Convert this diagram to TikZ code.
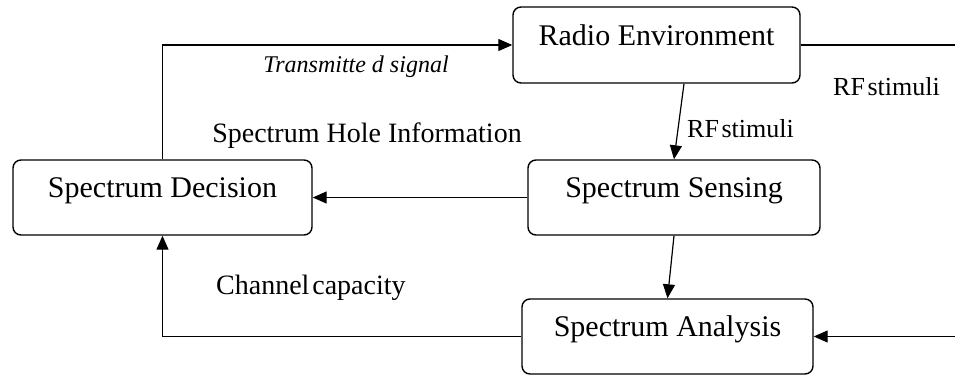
\documentclass[tikz,border=0pt]{standalone}
\usepackage{fontspec}
\setmainfont{Liberation Serif}
\usetikzlibrary{arrows.meta}
\begin{document}
\begin{tikzpicture}[x=1pt,y=-1pt,
  block/.style={draw,line width=1.4pt,rounded corners=8pt,inner sep=0pt,
    font=\fontsize{30}{30}\selectfont,text height=20pt,text depth=20pt},
  flow/.style={line width=1.2pt},
  arrowflow/.style={flow,-{Triangle[length=14pt,width=12pt]}},
  note/.style={inner sep=0pt,font=\fontsize{26}{26}\selectfont},
  bignote/.style={inner sep=0pt,font=\fontsize{28}{28}\selectfont}]
\useasboundingbox (0,0) rectangle (955,375);

% processing blocks
\node[block,minimum width=287pt,minimum height=76pt] (env)  at (656.5,45)    {Radio Environment};
\node[block,minimum width=292pt,minimum height=75pt] (sens) at (674,197.5)   {Spectrum Sensing};
\node[block,minimum width=291pt,minimum height=75pt] (ana)  at (667.5,336.5) {Spectrum Analysis};
\node[block,minimum width=299pt,minimum height=75pt] (dec)  at (162.5,197.5) {Spectrum Decision};

% open ends at the right border
\coordinate (outtop) at (955,45);
\coordinate (inbot)  at (955,336.5);

% connectors
\draw[arrowflow] (dec.north) |- (env.west);
\draw[flow] (env.east) -- (outtop);
\draw[arrowflow] (inbot) -- (ana.east);
\draw[arrowflow] ([xshift=27.5pt]env.south) -- (sens.north);
\draw[arrowflow] (sens.south) -- (ana.north);
\draw[arrowflow] (sens.west) -- (dec.east);
\draw[arrowflow] (ana.west) -| (dec.south);

% connector labels
\node[note,anchor=base,font=\fontsize{24}{24}\selectfont\itshape] (lbltx) at (356,72) {Transmitte d signal};
\node[note,anchor=base] (lblrf1) at (886.5,95) {RF\hspace{0.1em}stimuli};
\node[note,anchor=base west] (lblrf2) at (687,137) {RF\hspace{0.1em}stimuli};
\node[bignote,anchor=base] (lblhole) at (367,142) {Spectrum Hole Information};
\node[bignote,anchor=base west] (lblcap) at (216,294) {Channel\hspace{0.1em}capacity};
\end{tikzpicture}
\end{document}
